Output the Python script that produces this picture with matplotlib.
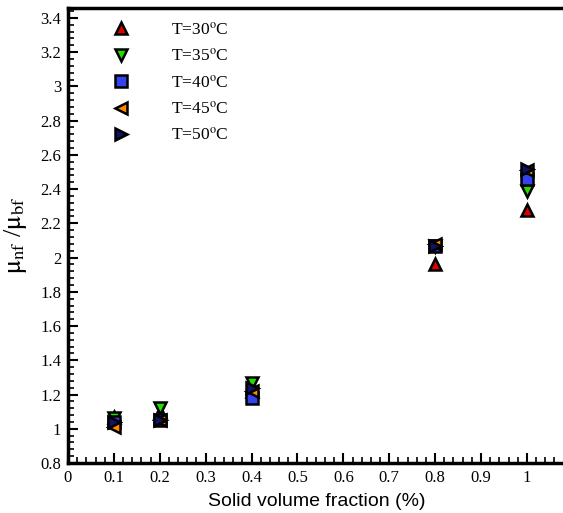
import matplotlib
matplotlib.use("Agg")
import matplotlib.pyplot as plt
from matplotlib.ticker import MultipleLocator

phi = [0.1, 0.2, 0.4, 0.8, 1.0]
labels = ["T=30$^{\\mathrm{o}}$C", "T=35$^{\\mathrm{o}}$C", "T=40$^{\\mathrm{o}}$C",
          "T=45$^{\\mathrm{o}}$C", "T=50$^{\\mathrm{o}}$C"]
t30 = [1.07, 1.10, 1.22, 1.96, 2.28]
t35 = [1.06, 1.12, 1.27, 2.07, 2.39]
t40 = [1.04, 1.05, 1.18, 2.07, 2.46]
t45 = [1.01, 1.05, 1.22, 2.08, 2.51]
t50 = [1.04, 1.05, 1.24, 2.07, 2.52]
series = [t30, t35, t40, t45, t50]
colors = ["#dd0000", "#22dd00", "#3344ee", "#ff8800", "#111166"]
markers = ["^", "v", "s", "<", ">"]

plt.rcParams['font.family'] = ['Liberation Serif', 'DejaVu Serif']
plt.rcParams['mathtext.fontset'] = 'stix'

fig = plt.figure(figsize=(5.63, 5.13), dpi=100)
ax = fig.add_axes([68/563, 1-463/513, 497/563, (463-8)/513])

for ys, c, m, lab in zip(series, colors, markers, labels):
    ax.plot(phi, ys, linestyle='none', marker=m, markersize=9, markerfacecolor=c,
            markeredgecolor='black', markeredgewidth=1.8, label=lab)

ax.set_xlim(0, 1.083)
ax.set_ylim(0.8, 3.458)
ax.xaxis.set_minor_locator(MultipleLocator(0.02))
ax.yaxis.set_minor_locator(MultipleLocator(0.04))
ax.set_xticks([0, 0.1, 0.2, 0.3, 0.4, 0.5, 0.6, 0.7, 0.8, 0.9, 1.0])
ax.set_xticklabels(["0", "0.1", "0.2", "0.3", "0.4", "0.5", "0.6", "0.7", "0.8", "0.9", "1"])
ax.set_yticks([0.8, 1.0, 1.2, 1.4, 1.6, 1.8, 2.0, 2.2, 2.4, 2.6, 2.8, 3.0, 3.2, 3.4])
ax.set_yticklabels(["0.8", "1", "1.2", "1.4", "1.6", "1.8", "2", "2.2", "2.4", "2.6",
                    "2.8", "3", "3.2", "3.4"])
ax.tick_params(which='major', direction='in', length=7, width=1.5, labelsize=12,
               top=False, right=False, pad=5)
ax.tick_params(which='minor', direction='in', length=4, width=1.2, top=False, right=False)
for s in ['left', 'bottom', 'top']:
    ax.spines[s].set_linewidth(2.5)
ax.spines['right'].set_visible(False)

ax.set_xlabel("Solid volume fraction (%)", family=['Liberation Sans', 'DejaVu Sans'],
              fontsize=14, labelpad=5)
ax.set_ylabel("$\\mathrm{\\mu_{nf}}$ /$\\mathrm{\\mu_{bf}}$", fontsize=19, labelpad=8)

leg = ax.legend(loc='upper left', bbox_to_anchor=(0.057, 0.985), frameon=False,
                fontsize=12.5, handletextpad=1.9, labelspacing=0.55, borderaxespad=0.0,
                markerscale=1.0)

fig.savefig("out.png", dpi=100)
